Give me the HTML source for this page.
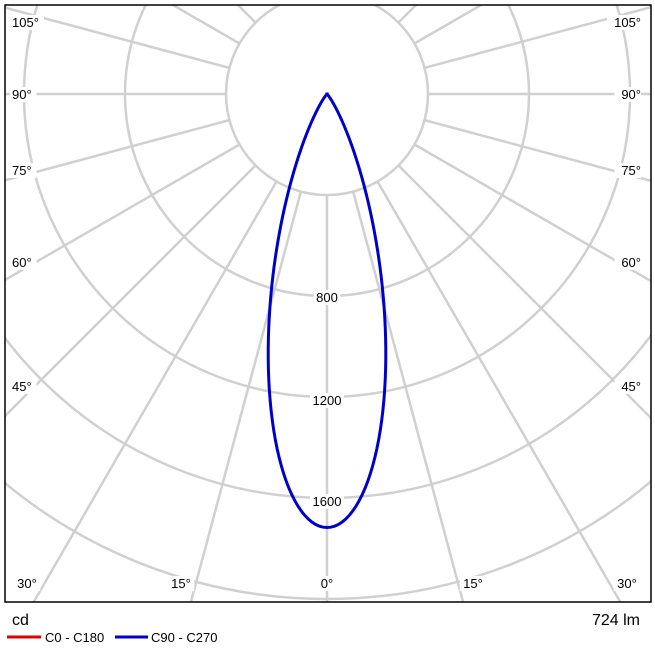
<!DOCTYPE html>
<html><head><style>html,body{margin:0;background:#fff;overflow:hidden;width:655px;height:655px}svg{display:block;font-family:"Liberation Sans",Arial,sans-serif}</style></head>
<body>
<svg id="s" width="655" height="655" viewBox="0 0 655 655">
<defs><clipPath id="c"><rect x="5" y="5" width="646" height="597"/></clipPath></defs>
<g id="grid" clip-path="url(#c)" stroke="#d0d0d0" stroke-width="2.5" fill="none"></g>
<g id="lab" font-size="13" fill="#000"></g>
<path id="curve" fill="none" stroke="#0000c8" stroke-width="3" clip-path="url(#c)"/>
<rect x="5" y="5" width="646" height="597" fill="none" stroke="#000" stroke-width="1.5"/>
<text x="12" y="625" font-size="16">cd</text>
<text x="640" y="625" font-size="16" text-anchor="end">724 lm</text>
<line x1="7" y1="637" x2="41" y2="637" stroke="#e00000" stroke-width="3"/>
<text x="45" y="642" font-size="13">C0 - C180</text>
<line x1="115" y1="637" x2="148" y2="637" stroke="#0000c8" stroke-width="3"/>
<text x="151" y="642" font-size="13">C90 - C270</text>
</svg>
<script>
var ns="http://www.w3.org/2000/svg",cx=327,cy=94,k=101/400;
var g=document.getElementById('grid'),L=document.getElementById('lab');
function el(p,t,a){var e=document.createElementNS(ns,t);for(var i in a)e.setAttribute(i,a[i]);p.appendChild(e);return e;}
for(var r=101;r<1000;r+=101)el(g,'circle',{cx:cx,cy:cy,r:r});
for(var a=-180;a<180;a+=15){var t=a*Math.PI/180;
el(g,'line',{x1:cx+101*Math.sin(t),y1:cy+101*Math.cos(t),x2:cx+1000*Math.sin(t),y2:cy+1000*Math.cos(t)});}
function lab(x,y,s,anc){var w=s.length*7.5+4;var x0=anc=='middle'?x-w/2:(anc=='end'?x-w:x-2);
el(L,'rect',{x:x0,y:y-12,width:w,height:15,fill:'#fff'});
var e=el(L,'text',{x:x,y:y,'text-anchor':anc});e.textContent=s;}
lab(327,302,'800','middle');lab(327,405,'1200','middle');lab(327,506,'1600','middle');
lab(327,588,'0°','middle');lab(181,588,'15°','middle');lab(473,588,'15°','middle');
lab(27,588,'30°','middle');lab(627,588,'30°','middle');
var ys=[[27,'105°'],[99,'90°'],[175,'75°'],[267,'60°'],[391,'45°']];
ys.forEach(function(v){lab(12,v[0],v[1],'start');lab(641,v[0],v[1],'end');});
var d='';for(var i=-90;i<=90;i+=0.5){var t=i*Math.PI/180,I=1717*Math.pow(Math.cos(t),19.5),r=I*k;
d+=(d?'L':'M')+(cx+r*Math.sin(t)).toFixed(2)+' '+(cy+r*Math.cos(t)).toFixed(2);}
document.getElementById('curve').setAttribute('d',d);
</script>
</body></html>
